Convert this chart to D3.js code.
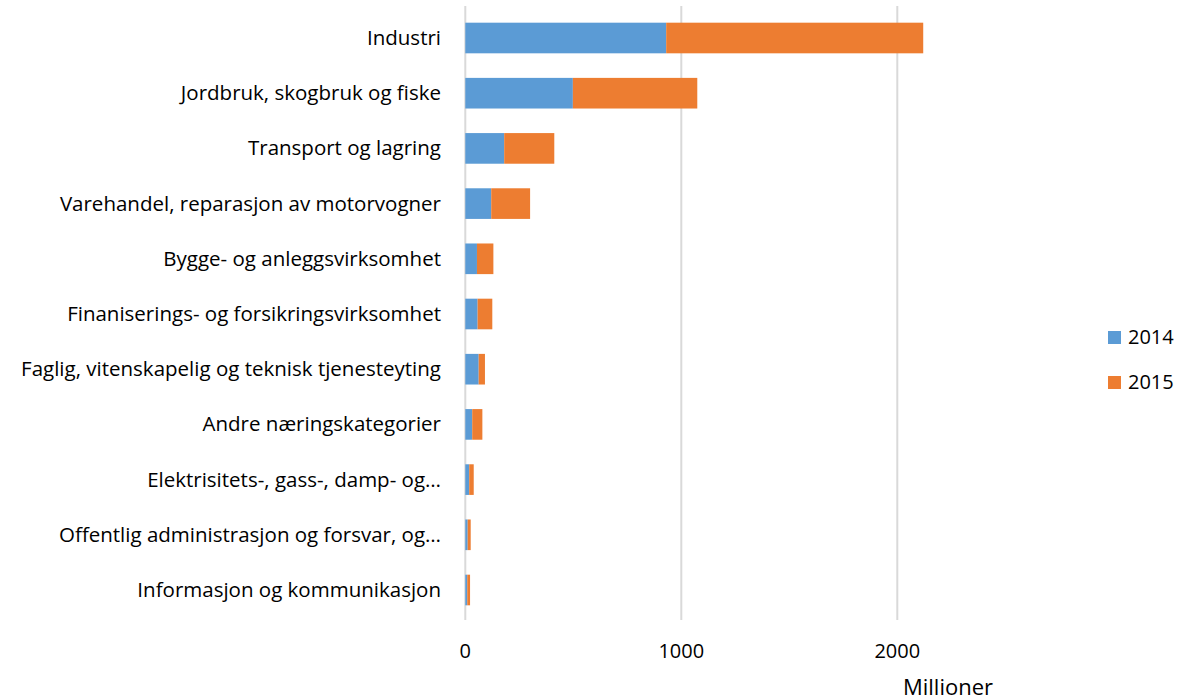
<!DOCTYPE html>
<html><head><meta charset="utf-8">
<script src="https://cdn.jsdelivr.net/npm/d3@7"></script>
<style>body{margin:0;background:#fff;} text{font-family:"Open Sans",sans-serif;fill:#000;}</style>
</head><body><svg id="c" width="1180" height="700"></svg>
<script>
const categories = ["Industri","Jordbruk, skogbruk og fiske","Transport og lagring","Varehandel, reparasjon av motorvogner","Bygge- og anleggsvirksomhet","Finaniserings- og forsikringsvirksomhet","Faglig, vitenskapelig og teknisk tjenesteyting","Andre næringskategorier","Elektrisitets-, gass-, damp- og…","Offentlig administrasjon og forsvar, og…","Informasjon og kommunikasjon"];
const series2014 = [930, 498, 180, 120, 54, 57, 62, 32, 18, 11, 9];
const series2015 = [1190, 576, 232, 180, 76, 68, 29, 47, 21, 14, 13];
const seriesNames = ["2014","2015"];
const colors = ["#5b9bd5","#ed7d31"];
const tickValues = [0, 1000, 2000];
const axisTitle = "Millioner";

const svg = d3.select("#c");
const x = d3.scaleLinear().domain([0,2000]).range([465.3, 897.3]);
const y = d3.scaleBand().domain(categories).range([10.4, 617.6]).paddingInner(0.445).paddingOuter(0.2225);

// gridlines
svg.append("g").selectAll("line").data(tickValues).join("line")
  .attr("x1", d=>x(d)).attr("x2", d=>x(d)).attr("y1", 6).attr("y2", 620)
  .attr("stroke","#d9d9d9").attr("stroke-width",2);

const rows = categories.map((c,i)=>({c, a:series2014[i], b:series2015[i]}));
const g = svg.append("g");
g.selectAll("rect.a").data(rows).join("rect").attr("class","a")
  .attr("x", x(0)).attr("y", d=>y(d.c)).attr("height", y.bandwidth())
  .attr("width", d=>x(d.a)-x(0)).attr("fill", colors[0]);
g.selectAll("rect.b").data(rows).join("rect").attr("class","b")
  .attr("x", d=>x(d.a)).attr("y", d=>y(d.c)).attr("height", y.bandwidth())
  .attr("width", d=>x(d.a+d.b)-x(d.a)).attr("fill", colors[1]);

// category labels
svg.append("g").selectAll("text").data(categories).join("text")
  .attr("x", 441).attr("y", d=>y(d)+y.bandwidth()/2+7)
  .attr("text-anchor","end").attr("font-size",20.5).text(d=>d);

// tick labels
svg.append("g").selectAll("text").data(tickValues).join("text")
  .attr("x", d=>x(d)).attr("y", 658).attr("text-anchor","middle").attr("font-size",20).text(d=>d);

svg.append("text").attr("x", 948).attr("y", 695).attr("text-anchor","middle").attr("font-size",22).text(axisTitle);

// legend
const lg = svg.append("g");
seriesNames.forEach((n,i)=>{
  lg.append("rect").attr("x",1108).attr("y",331+i*45).attr("width",13).attr("height",13).attr("fill",colors[i]);
  lg.append("text").attr("x",1128).attr("y",343.5+i*45).attr("font-size",20).text(n);
});
</script></body></html>
